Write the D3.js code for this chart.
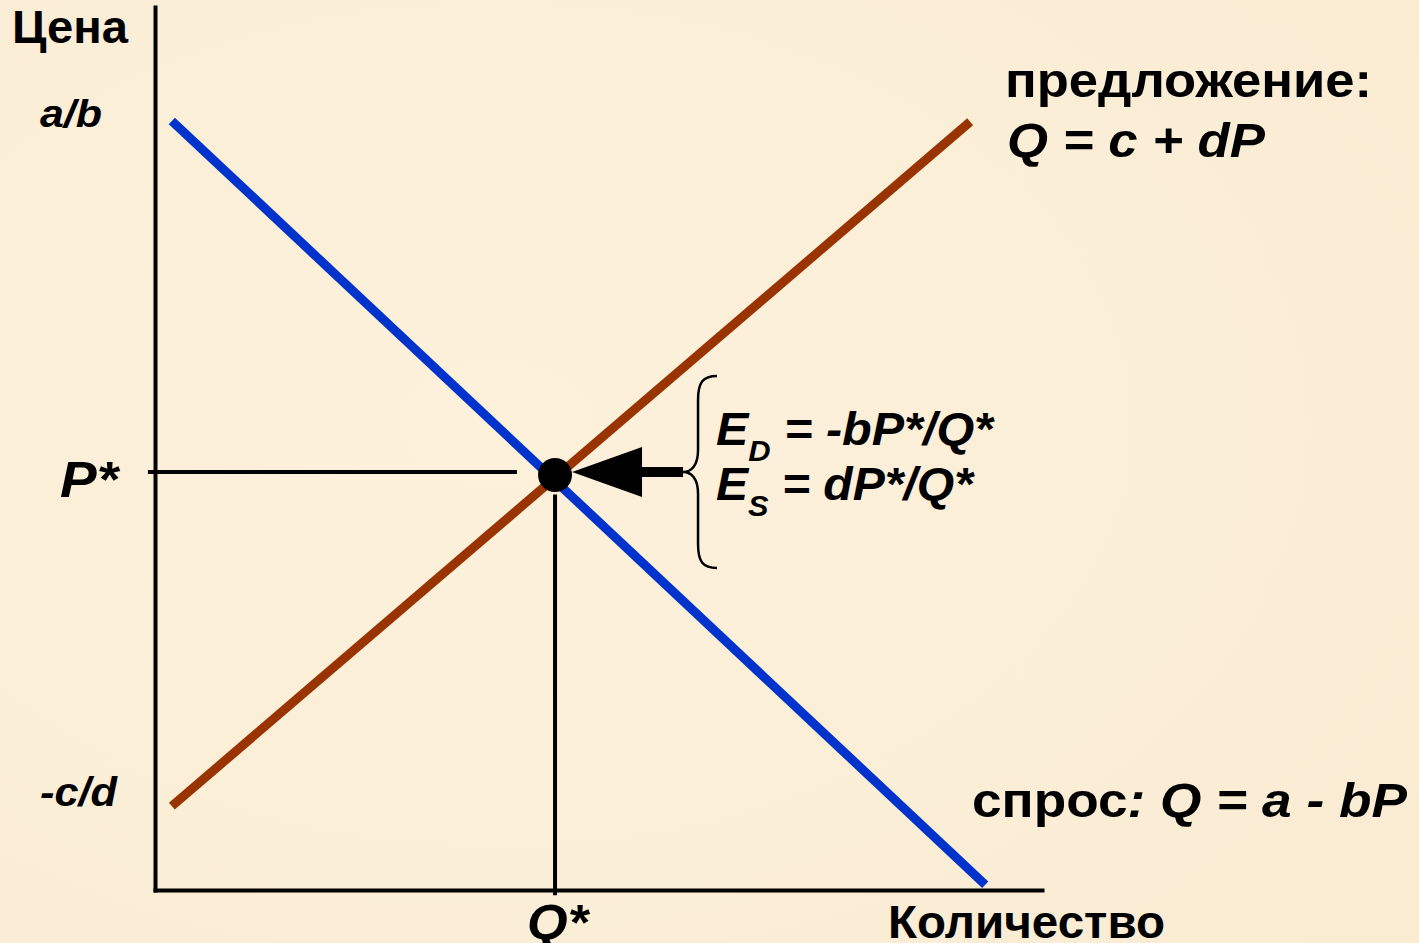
<!DOCTYPE html>
<html><head><meta charset="utf-8">
<script src="https://cdn.jsdelivr.net/npm/d3@7"></script>
<style>
html,body{margin:0;padding:0;background:#fcefd8;}
svg{display:block;}
text{font-family:"Liberation Sans",Arial,sans-serif;font-weight:bold;fill:#000;}
</style></head>
<body>
<script>
// ---- data (abstract units: quantity 0..100, price 0..100) ----
const demandQ = [1.9, 93.6];
const demandP = [87.1, 0.6];
const supplyQ = [1.9, 91.9];
const supplyP = [9.5, 87.0];
const eqQ = 45.1;
const eqP = 47.0;
const priceTickValues = [87.5, 47.0, 9.5];
const priceTickLabels = ["a/b", "P*", "-c/d"];
const qtyTickValues = [45.1];
const qtyTickLabels = ["Q*"];

const W = 1419, H = 943;
const svg = d3.select("body").append("svg").attr("width", W).attr("height", H);

// background with soft texture
const defs = svg.append("defs");
const g1 = defs.append("radialGradient").attr("id","bg").attr("cx","35%").attr("cy","45%").attr("r","80%");
g1.append("stop").attr("offset","0%").attr("stop-color","#fdf1dc");
g1.append("stop").attr("offset","100%").attr("stop-color","#faecd3");
svg.append("rect").attr("width",W).attr("height",H).attr("fill","url(#bg)");

const x = d3.scaleLinear().domain([0,100]).range([155,1042]);
const y = d3.scaleLinear().domain([0,100]).range([890,7]);

// axes
const yAxis = d3.axisLeft(y).tickValues([]).tickSizeOuter(0);
const xAxis = d3.axisBottom(x).tickValues([]).tickSizeOuter(0);
const ga = svg.append("g").attr("transform","translate(155,0)").call(yAxis);
const gb = svg.append("g").attr("transform","translate(0,890)").call(xAxis);
[ga,gb].forEach(g=>g.select(".domain").attr("stroke","#000").attr("stroke-width",4).attr("stroke-linecap","square"));

// guide lines
svg.append("line").attr("x1",x(-0.8)).attr("x2",x(40.8)).attr("y1",y(eqP)-3).attr("y2",y(eqP)-3)
  .attr("stroke","#000").attr("stroke-width",4);
svg.append("line").attr("x1",x(eqQ)).attr("x2",x(eqQ)).attr("y1",y(44.8)).attr("y2",y(-0.6))
  .attr("stroke","#000").attr("stroke-width",4);

// curves
const line = d3.line().x(d=>x(d[0])).y(d=>y(d[1]));
svg.append("path").datum(demandQ.map((q,i)=>[q,demandP[i]])).attr("d",line)
  .attr("fill","none").attr("stroke","#0033cc").attr("stroke-width",9);
svg.append("path").datum(supplyQ.map((q,i)=>[q,supplyP[i]])).attr("d",line)
  .attr("fill","none").attr("stroke","#993300").attr("stroke-width",9);

// equilibrium dot
svg.append("circle").attr("cx",x(eqQ)).attr("cy",y(eqP)).attr("r",17).attr("fill","#000");

// arrow
const ay = y(eqP) - 3;
const tipX = x(eqQ) + 17;
svg.append("path").attr("d",`M${tipX},${ay} L${tipX+70},${ay-25} L${tipX+70},${ay-5} L${tipX+111},${ay-5} L${tipX+111},${ay+5} L${tipX+70},${ay+5} L${tipX+70},${ay+25} Z`)
  .attr("fill","#000");

// brace
const bx = tipX + 111, bTop = 376, bBot = 568, bMid = ay;
svg.append("path").attr("d",
  `M${bx+34},${bTop} C${bx+20},${bTop} ${bx+15},${bTop+6} ${bx+15},${bTop+24}
   L${bx+15},${bMid-22} C${bx+15},${bMid-6} ${bx+8},${bMid} ${bx},${bMid}
   C${bx+8},${bMid} ${bx+15},${bMid+6} ${bx+15},${bMid+22}
   L${bx+15},${bBot-24} C${bx+15},${bBot-6} ${bx+20},${bBot} ${bx+34},${bBot}`)
  .attr("fill","none").attr("stroke","#000").attr("stroke-width",2.5);

function fit(sel, len){ return sel.attr("textLength",len).attr("lengthAdjust","spacingAndGlyphs"); }

// elasticity formulas
function formula(yb, sub, rest, len){
  const t = svg.append("text").attr("x",716).attr("y",yb).attr("font-size",47).attr("font-style","italic");
  t.append("tspan").text("E");
  t.append("tspan").attr("font-size",30).attr("dy",16).text(sub);
  t.append("tspan").attr("dy",-16).text(rest);
  fit(t,len);
}
formula(445,"D"," = -bP*/Q*",277);
formula(500,"S"," = dP*/Q*",257);

// axis titles
fit(svg.append("text").attr("x",12).attr("y",43).attr("font-size",46).text("Цена"),116);
fit(svg.append("text").attr("x",888).attr("y",938).attr("font-size",46).text("Количество"),277);

// price tick labels
const tickLeft = [40,60,40];
const tickWidth = [62,58,77];
const tickDy = [10,22,0];
const tickSize = [38,50,40];
svg.selectAll("text.pt").data(priceTickValues).join("text").attr("class","pt")
  .attr("x",(d,i)=>tickLeft[i]).attr("y",(d,i)=>y(d)+tickDy[i])
  .attr("font-style","italic").attr("font-size",(d,i)=>tickSize[i])
  .attr("textLength",(d,i)=>tickWidth[i]).attr("lengthAdjust","spacingAndGlyphs")
  .text((d,i)=>priceTickLabels[i]);
// quantity tick labels
svg.selectAll("text.qt").data(qtyTickValues).join("text").attr("class","qt")
  .attr("x",d=>x(d)-28).attr("y",940).attr("font-style","italic").attr("font-size",50)
  .attr("textLength",61).attr("lengthAdjust","spacingAndGlyphs")
  .text((d,i)=>qtyTickLabels[i]);

// curve labels
fit(svg.append("text").attr("x",1005).attr("y",97).attr("font-size",48).text("предложение:"),367);
fit(svg.append("text").attr("x",1007).attr("y",157).attr("font-size",48).attr("font-style","italic").text("Q = c + dP"),258);
const sp = svg.append("text").attr("x",972).attr("y",817).attr("font-size",49);
sp.append("tspan").text("спрос");
sp.append("tspan").attr("font-style","italic").text(": Q = a - bP");
fit(sp,435);
</script>
</body></html>
